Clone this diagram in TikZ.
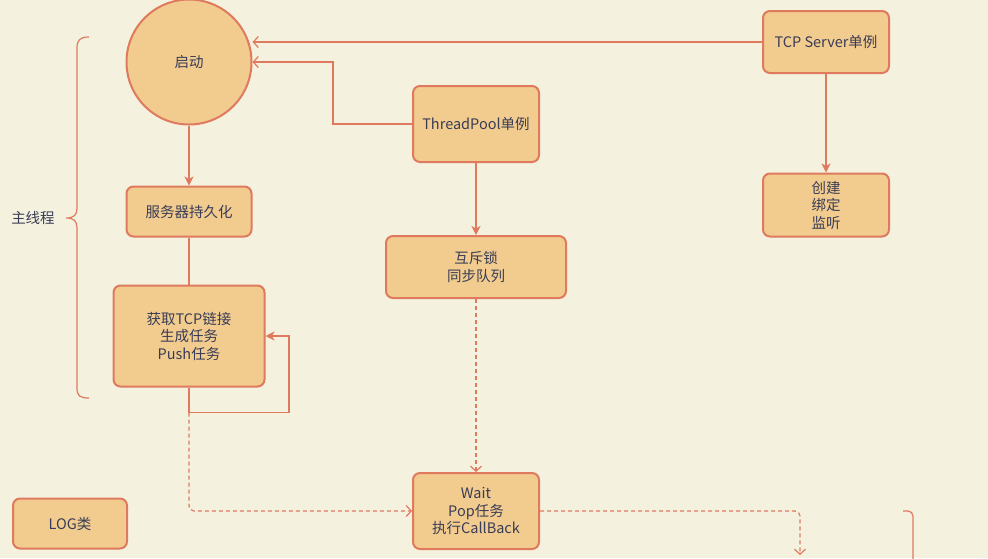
\documentclass[tikz,border=0pt]{standalone}
\usepackage{fontspec}
\setmainfont{Noto Sans CJK SC}
\usetikzlibrary{arrows.meta}
\definecolor{bg}{HTML}{F4F1DE}
\definecolor{st}{HTML}{E07A5F}
\definecolor{fl}{HTML}{F2CC8F}
\definecolor{tx}{HTML}{393C56}
\begin{document}
\begin{tikzpicture}[x=1pt,y=-1pt,
  box/.style={draw=st,fill=fl,line width=2pt,rounded corners=7pt,text=tx,align=center,
    font=\fontsize{14.5}{17.5}\selectfont,inner sep=0pt},
  conn/.style={draw=st,line width=1.2pt},
  dconn/.style={conn,dash pattern=on 4pt off 3pt},
  filled/.style={-{Stealth[length=9pt,width=9pt,inset=2.5pt]}},
  openarr/.style={-{Straight Barb[length=5pt,width=11pt]}},
  lbl/.style={text=tx,font=\fontsize{14.5}{17.5}\selectfont}]
\fill[bg] (0,0) rectangle (988,558);
\useasboundingbox (0,0) rectangle (988,558);

\node[box,circle,rounded corners=0pt,minimum size=125pt] (start) at (189,62) {启动};
\node[box,minimum width=125pt,minimum height=50pt] (persist) at (189,211.5) {服务器持久化};
\node[box,minimum width=151pt,minimum height=101pt] (get) at (189,336) {获取TCP链接\\生成任务\\Push任务};
\node[box,minimum width=126pt,minimum height=76pt] (tp) at (476,124) {ThreadPool单例};
\node[box,minimum width=126pt,minimum height=62pt] (tcp) at (826,42) {TCP Server单例};
\node[box,minimum width=126pt,minimum height=63pt] (create) at (826,205) {创建\\绑定\\监听};
\node[box,minimum width=180pt,minimum height=62pt] (mutex) at (476,267) {互斥锁\\同步队列};
\node[box,minimum width=126pt,minimum height=76pt] (wait) at (476,511) {Wait\\Pop任务\\执行CallBack};
\node[box,minimum width=114pt,minimum height=50pt] (log) at (70,523.5) {LOG类};
\node[lbl] (main) at (33,218) {主线程};

\draw[conn,filled] (start) -- (persist);
\draw[conn] (persist) -- (get);
\draw[conn,filled] (get.south) -- ++(0,25) coordinate (loopc) -- ++(100,0) |- (get.east);
\draw[dconn,openarr,rounded corners=5pt] (loopc) |- (wait.west);
\draw[conn,openarr] (tp.west) -- (333,124) |- (start.east);
\draw[conn,openarr] (tcp.west) -- (start.east |- tcp.west);
\draw[conn,filled] (tcp) -- (create);
\draw[conn,filled] (tp) -- (mutex);
\draw[dconn,openarr] (mutex) -- (wait);
\coordinate (rdown) at (800,555);
\draw[dconn,openarr,rounded corners=5pt] (wait.east) -| (rdown);
\coordinate (b1) at (903,511);
\coordinate (b2) at (913,560);
\draw[conn,rounded corners=5pt] (b1) -| (b2);

\draw[conn] (89,37) .. controls (80,37) and (77,40) .. (77,48) -- (77,208)
  .. controls (77,215) and (74,218) .. (66,218)
  .. controls (74,218) and (77,221) .. (77,228) -- (77,388)
  .. controls (77,396) and (80,398) .. (89,398);
\end{tikzpicture}
\end{document}
